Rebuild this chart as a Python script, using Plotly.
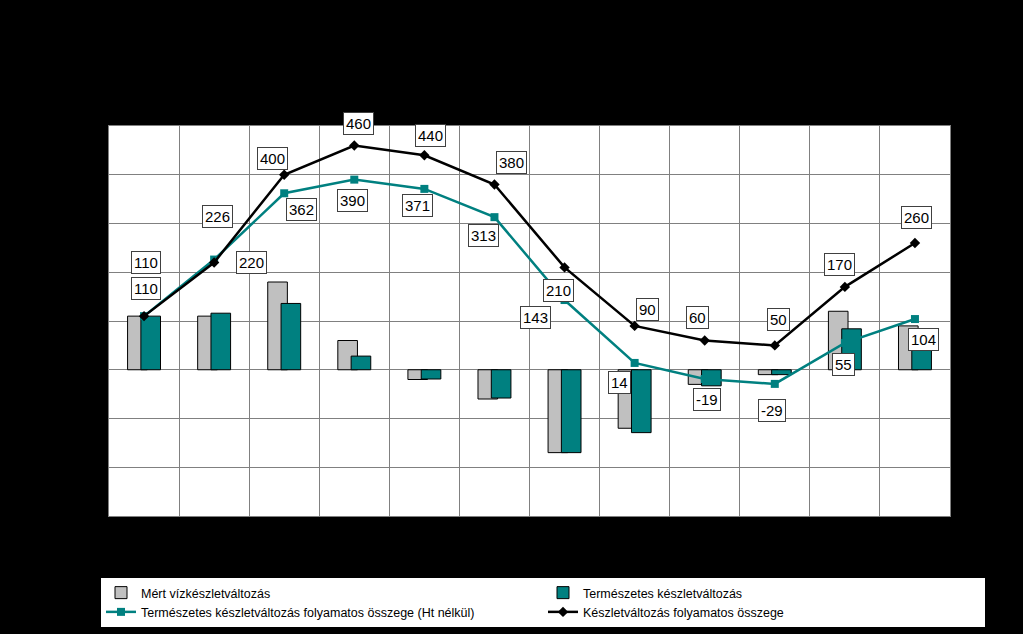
import plotly.graph_objects as go

months = [1, 2, 3, 4, 5, 6, 7, 8, 9, 10, 11, 12]
mert = [110, 110, 180, 60, -20, -60, -170, -120, -30, -10, 120, 90]
termeszetes = [110, 116, 136, 28, -19, -58, -170, -129, -33, -10, 84, 49]
term_cum = [110, 226, 362, 390, 371, 313, 143, 14, -19, -29, 55, 104]
keszlet_cum = [110, 220, 400, 460, 440, 380, 210, 90, 60, 50, 170, 260]

names = ["Mért vízkészletváltozás", "Természetes készletváltozás",
         "Természetes készletváltozás folyamatos összege (Ht nélkül)",
         "Készletváltozás folyamatos összege"]

# label offsets (pixels) – styling only
blk_shift = [(2, 54), (37, 0), (-12, 16), (4, 22), (6, 20), (17, 22), (-6, -23),
             (13, 16), (-7, 23), (4, 26), (-5, 22), (2, 26)]
teal_shift = [(2, 28), (3, 43), (17, -16), (-2, -21), (-7, -17), (-11, -18),
              (-29, -17), (-15, -20), (2, -20), (-3, -27), (-1, -22), (9, -20)]

FONT = "Arial, Liberation Sans, sans-serif"
TEAL = "#008080"

fig = go.Figure()
fig.add_bar(x=months, y=mert, name=names[0], marker=dict(color="#C0C0C0", line=dict(color="black", width=1)),
            offset=-0.235, width=0.28)
fig.add_bar(x=months, y=termeszetes, name=names[1], marker=dict(color=TEAL, line=dict(color="black", width=1)),
            offset=-0.045, width=0.28)
fig.add_scatter(x=months, y=term_cum, name=names[2], mode="lines+markers",
                line=dict(color=TEAL, width=2.5), marker=dict(symbol="square", size=8, color=TEAL))
fig.add_scatter(x=months, y=keszlet_cum, name=names[3], mode="lines+markers",
                line=dict(color="black", width=2.5), marker=dict(symbol="diamond", size=8, color="black"))

for vals, shifts in ((keszlet_cum, blk_shift), (term_cum, teal_shift)):
    for m, v, (xs, ys) in zip(months, vals, shifts):
        fig.add_annotation(x=m, y=v, text=str(v), showarrow=False, xshift=xs, yshift=ys,
                           bgcolor="white", bordercolor="#404040", borderwidth=1, borderpad=2,
                           font=dict(family=FONT, size=15, color="black"))

fig.update_layout(
    width=1023, height=634,
    paper_bgcolor="black", plot_bgcolor="white",
    margin=dict(l=109, r=73, t=126, b=118, autoexpand=False),
    barmode="overlay",
    font=dict(family=FONT, size=12, color="black"),
    showlegend=True,
    legend=dict(orientation="h", x=-0.0107, y=(516 - 628) / 390, xanchor="left", yanchor="bottom",
                bgcolor="white", bordercolor="black", borderwidth=1,
                entrywidth=397, entrywidthmode="pixels", traceorder="normal",
                font=dict(family=FONT, size=12.5, color="black"), tracegroupgap=0),
)
fig.update_xaxes(tick0=0.5, dtick=1, showgrid=True, gridcolor="#808080", gridwidth=1,
                 showticklabels=False, ticks="", showline=True, linecolor="#808080", mirror=True,
                 range=[0.5, 12.5], zeroline=False)
fig.update_yaxes(range=[-300, 500], dtick=100, showgrid=True, gridcolor="#808080", gridwidth=1,
                 zeroline=False, showline=True, linecolor="#808080", mirror=True,
                 tickfont=dict(color="black"), ticks="")

fig.write_html("out.html")
